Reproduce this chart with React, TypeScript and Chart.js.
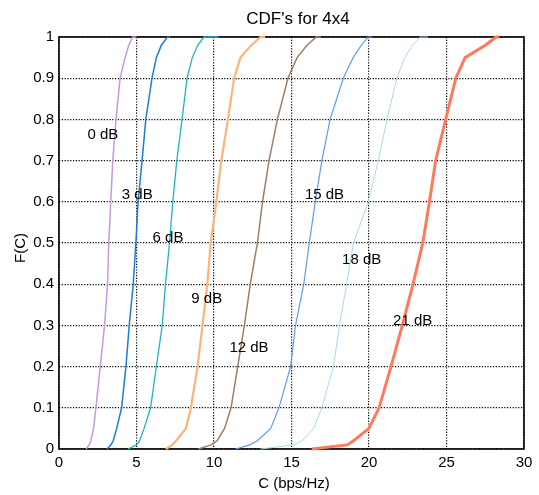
import React, { useEffect, useRef } from "react";
import { Chart, registerables } from "chart.js";

Chart.register(...registerables);

// CDF levels shared by all curves (last point is the flat tail at F = 1)
const cdfLevels = [0, 0.01, 0.02, 0.05, 0.1, 0.2, 0.3, 0.4, 0.5, 0.6, 0.7, 0.8, 0.9, 0.95, 0.98, 1, 1];

const snrNames = ["0 dB", "3 dB", "6 dB", "9 dB", "12 dB", "15 dB", "18 dB", "21 dB"];

// capacity values (bps/Hz) at each CDF level
const cap0dB = [1.75, 1.95, 2.05, 2.23, 2.38, 2.66, 2.94, 3.13, 3.21, 3.34, 3.47, 3.68, 3.94, 4.26, 4.5, 4.75, 5.0];
const cap3dB = [3.1, 3.35, 3.5, 3.72, 4.04, 4.32, 4.53, 4.79, 4.96, 5.1, 5.36, 5.6, 6.0, 6.28, 6.6, 7.0, 7.15];
const cap6dB = [4.45, 5.0, 5.2, 5.49, 5.91, 6.28, 6.66, 6.87, 7.13, 7.34, 7.6, 7.94, 8.26, 8.6, 8.95, 9.35, 10.3];
const cap9dB = [6.9, 7.3, 7.55, 8.19, 8.51, 8.94, 9.26, 9.57, 9.79, 10.15, 10.47, 10.9, 11.3, 11.7, 12.4, 13.0, 13.3];
const cap12dB = [9.0, 9.8, 10.2, 10.68, 11.1, 11.53, 11.96, 12.34, 12.8, 13.13, 13.55, 14.09, 14.77, 15.36, 16.0, 16.6, 16.9];
const cap15dB = [11.4, 12.3, 12.8, 13.66, 14.19, 14.94, 15.26, 15.79, 16.15, 16.53, 16.96, 17.49, 18.34, 18.98, 19.5, 19.94, 20.2];
const cap18dB = [13.0, 15.15, 15.7, 16.43, 16.96, 17.7, 18.1, 18.55, 19.0, 19.95, 20.6, 21.16, 21.8, 22.3, 22.8, 23.3, 23.8];
const cap21dB = [16.3, 18.6, 19.0, 20.0, 20.65, 21.42, 22.15, 22.84, 23.47, 23.9, 24.3, 24.95, 25.6, 26.2, 27.5, 28.2, 28.4];

const capSeries = [cap0dB, cap3dB, cap6dB, cap9dB, cap12dB, cap15dB, cap18dB, cap21dB];
const seriesColors = ["#c59be0", "#1a7fd4", "#1fb3c4", "#ffb27a", "#9c7f66", "#5b9ef0", "#aed6ee", "#ff7a5c"];
const seriesWidths = [1.5, 1.5, 1.3, 2.2, 1.5, 1.2, 1.0, 3.0];

// in-plot label positions (data coords)
const labelCap = [2.83, 5.05, 7.03, 9.53, 12.26, 17.13, 19.53, 22.82];
const labelF = [0.762, 0.618, 0.512, 0.364, 0.246, 0.617, 0.459, 0.311];

const chartTitle = "CDF's for 4x4";
const xTitle = "C (bps/Hz)";
const yTitle = "F(C)";

const FONT = "Arial, 'Liberation Sans', Helvetica, sans-serif";

export default function App() {
  const canvasRef = useRef<HTMLCanvasElement | null>(null);

  useEffect(() => {
    const canvas = canvasRef.current;
    if (!canvas) return;

    const datasets = capSeries.map((caps, i) => ({
      label: snrNames[i],
      data: caps.map((c, k) => ({ x: c, y: cdfLevels[k] })),
      borderColor: seriesColors[i],
      backgroundColor: seriesColors[i],
      borderWidth: seriesWidths[i],
      pointRadius: 0,
      tension: 0,
      fill: false,
      clip: 4,
    }));

    const decor = {
      id: "decor",
      beforeDatasetsDraw(chart: any) {
        const { ctx, chartArea } = chart;
        ctx.save();
        ctx.strokeStyle = "#000";
        ctx.lineWidth = 1.6;
        ctx.strokeRect(chartArea.left, chartArea.top, chartArea.right - chartArea.left, chartArea.bottom - chartArea.top);
        ctx.restore();
      },
      afterDatasetsDraw(chart: any) {
        const { ctx, scales } = chart;
        ctx.save();
        ctx.fillStyle = "#000";
        ctx.font = `15px ${FONT}`;
        ctx.textAlign = "center";
        ctx.textBaseline = "middle";
        snrNames.forEach((name, i) => {
          ctx.fillText(name, scales.x.getPixelForValue(labelCap[i]), scales.y.getPixelForValue(labelF[i]));
        });
        // title
        ctx.font = `17px ${FONT}`;
        ctx.textBaseline = "alphabetic";
        ctx.fillText(chartTitle, 298, 24);
        // x axis title
        ctx.font = `15px ${FONT}`;
        ctx.textBaseline = "middle";
        ctx.fillText(xTitle, 294, 484);
        // y axis title
        ctx.translate(21, 248);
        ctx.rotate(-Math.PI / 2);
        ctx.fillText(yTitle, 0, 0);
        ctx.restore();
      },
    };

    const chart = new Chart(canvas, {
      type: "line",
      data: { datasets },
      options: {
        animation: false,
        responsive: false,
        devicePixelRatio: 1,
        layout: { padding: { top: 37, right: 15, left: 0, bottom: 0 } },
        plugins: { legend: { display: false }, tooltip: { enabled: false }, title: { display: false } },
        scales: {
          x: {
            type: "linear",
            min: 0,
            max: 30,
            ticks: {
              stepSize: 5,
              color: "#000",
              font: { size: 15, family: FONT },
              padding: 5,
              maxRotation: 0,
            },
            grid: { color: "#000", lineWidth: 1.2, drawTicks: false },
            border: { display: false, dash: [1.2, 1.6] },
            afterFit: (s: any) => {
              s.height = 46;
            },
          },
          y: {
            type: "linear",
            min: 0,
            max: 1,
            ticks: {
              stepSize: 0.1,
              color: "#000",
              font: { size: 15, family: FONT },
              padding: 5,
              callback: (v: any) => String(Math.round(Number(v) * 10) / 10),
            },
            grid: { color: "#000", lineWidth: 1.2, drawTicks: false },
            border: { display: false, dash: [1.2, 1.6] },
            afterFit: (s: any) => {
              s.width = 59;
            },
          },
        },
      },
      plugins: [decor],
    });

    return () => chart.destroy();
  }, []);

  return (
    <div style={{ position: "fixed", left: 0, top: 0, width: 539, height: 495, background: "#fff" }}>
      <canvas ref={canvasRef} width={539} height={495} style={{ display: "block" }} />
    </div>
  );
}
